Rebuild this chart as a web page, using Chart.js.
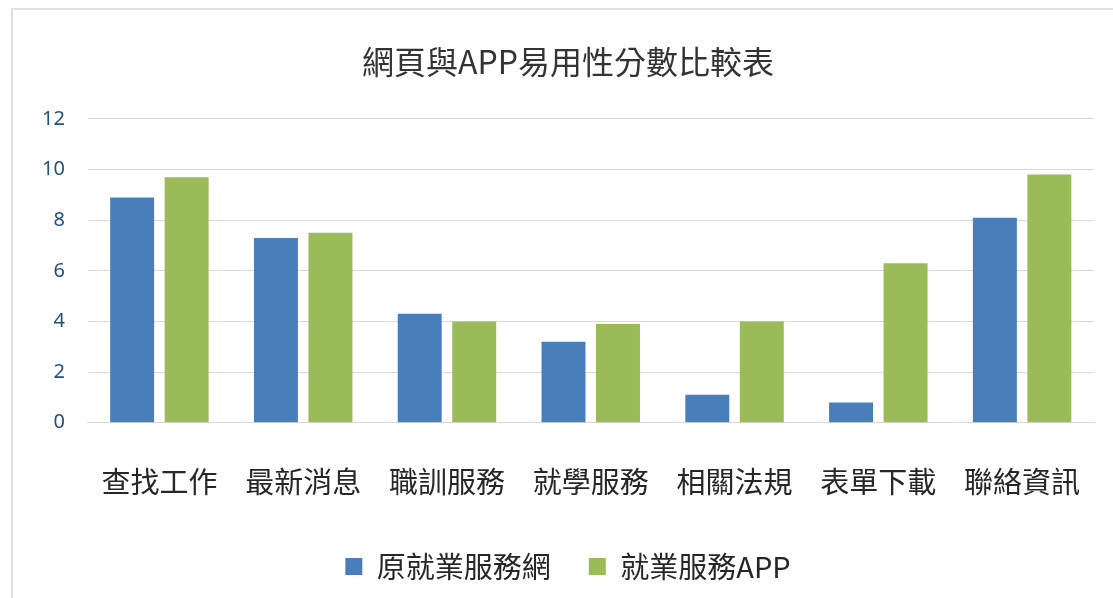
<!DOCTYPE html>
<html>
<head>
<meta charset="utf-8">
<script src="https://cdn.jsdelivr.net/npm/chart.js@4"></script>
<style>
  html, body { margin: 0; padding: 0; background: #ffffff; overflow: hidden; }
  #frame { position: absolute; left: 11px; top: 8px; width: 1100px; height: 588px;
           border-left: 2px solid #dedede; border-top: 2px solid #e2e2e2; }
  #wrap { position: absolute; left: 0; top: 0; width: 1113px; height: 598px; }
</style>
</head>
<body>
<div id="frame"></div>
<div id="wrap"><canvas id="c" width="1113" height="598"></canvas></div>
<script>
const chartTitle = '網頁與APP易用性分數比較表';
const categories = ['查找工作', '最新消息', '職訓服務', '就學服務', '相關法規', '表單下載', '聯絡資訊'];
const seriesNames = ['原就業服務網', '就業服務APP'];
const webScores = [8.9, 7.3, 4.3, 3.2, 1.1, 0.8, 8.1];
const appScores = [9.7, 7.5, 4.0, 3.9, 4.0, 6.3, 9.8];
const yTicks = [0, 2, 4, 6, 8, 10, 12];

const FONT = '"Noto Sans CJK TC", "Noto Sans", sans-serif';

new Chart(document.getElementById('c'), {
  type: 'bar',
  data: {
    labels: categories,
    datasets: [
      { label: seriesNames[0], data: webScores, backgroundColor: '#4a7ebb' },
      { label: seriesNames[1], data: appScores, backgroundColor: '#9bbb59' }
    ]
  },
  options: {
    responsive: false,
    animation: false,
    devicePixelRatio: 1,
    categoryPercentage: 0.758,
    barPercentage: 0.807,
    layout: { padding: { left: 42, right: 19, top: 0, bottom: 7 } },
    plugins: {
      title: {
        display: true,
        text: chartTitle,
        color: '#333333',
        font: { family: FONT, size: 32, weight: 'normal', lineHeight: 1.2 },
        padding: { top: 43, bottom: 37.5 }
      },
      legend: {
        display: true,
        position: 'bottom',
        labels: {
          color: '#262626',
          font: { family: FONT, size: 29 },
          boxWidth: 17,
          boxHeight: 17,
          padding: 38
        }
      },
      tooltip: { enabled: false }
    },
    scales: {
      x: {
        grid: { display: false, drawTicks: true, tickLength: 42 },
        border: { display: true, color: '#d9d9d9', width: 1 },
        ticks: {
          color: '#262626',
          font: { family: FONT, size: 29 },
          padding: 0,
          maxRotation: 0,
          autoSkip: false
        },
        afterFit: (s) => { s.height = 91.3; }
      },
      y: {
        min: 0,
        max: 12,
        afterBuildTicks: (s) => { s.ticks = yTicks.map(v => ({ value: v })); },
        grid: { color: '#d9d9d9', drawTicks: false, lineWidth: 1 },
        border: { display: false },
        ticks: {
          color: '#24507f',
          font: { family: '"Noto Sans", sans-serif', size: 20 },
          padding: 22.5
        },
        afterFit: (s) => { s.width = 45.5; }
      }
    }
  }
});
</script>
</body>
</html>
